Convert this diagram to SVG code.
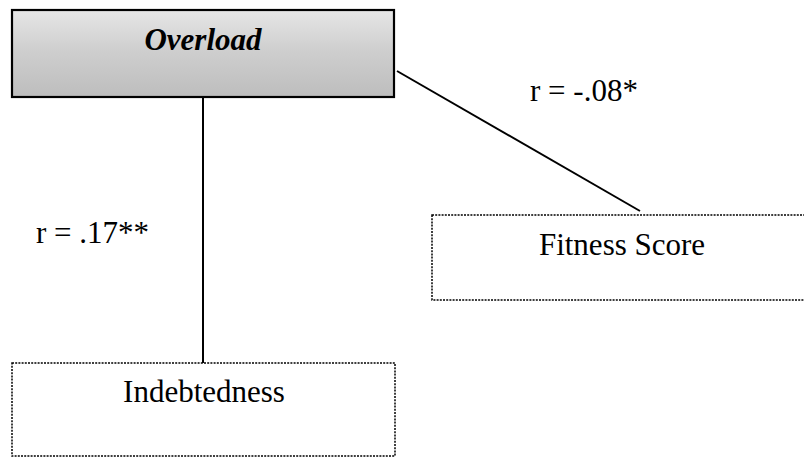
<svg xmlns="http://www.w3.org/2000/svg" width="804" height="457" viewBox="0 0 804 457">
<defs>
<linearGradient id="g" x1="0" y1="0" x2="0" y2="1">
<stop offset="0" stop-color="#e6e6e6"/>
<stop offset="0.45" stop-color="#cfcfcf"/>
<stop offset="1" stop-color="#bdbdbd"/>
</linearGradient>
</defs>
<style>
.t{font-family:"Liberation Serif","Times New Roman",serif;font-size:31px;fill:#000}
.dot{fill:#fff;stroke:#000;stroke-width:1.5;stroke-dasharray:2 1.2}
.ln{stroke:#000;stroke-width:2;fill:none}
</style>
<rect width="804" height="457" fill="#fff"/>
<g id="connectors">
<line class="ln" x1="203" y1="97" x2="203" y2="363"/>
<line class="ln" x1="397" y1="71" x2="640" y2="211"/>
</g>
<g id="overload">
<rect x="12" y="10" width="382" height="87" fill="url(#g)" stroke="#000" stroke-width="2.2"/>
<text class="t" x="203" y="50" text-anchor="middle" font-weight="bold" font-style="italic">Overload</text>
</g>
<g id="fitness">
<rect class="dot" x="432" y="215" width="380" height="85"/>
<text class="t" x="622" y="255" text-anchor="middle">Fitness Score</text>
</g>
<g id="indebtedness">
<rect class="dot" x="12" y="363" width="383" height="93"/>
<text class="t" x="204" y="402" text-anchor="middle">Indebtedness</text>
</g>
<g id="labels">
<text class="t" x="36" y="243">r = .17**</text>
<text class="t" x="530" y="101">r = -.08*</text>
</g>
</svg>
